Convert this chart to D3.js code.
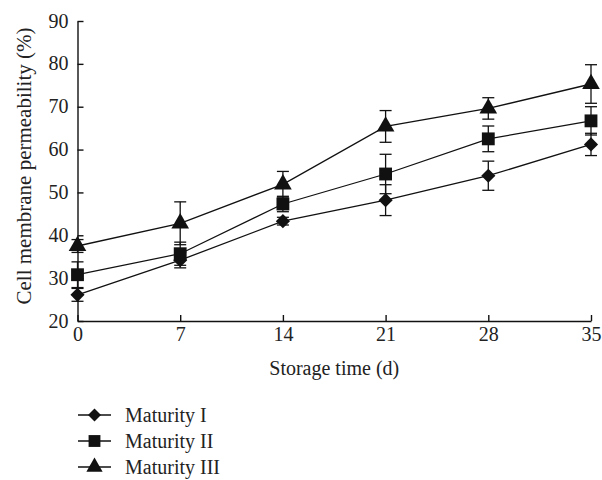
<!DOCTYPE html>
<html>
<head>
<meta charset="utf-8">
<script src="https://cdn.jsdelivr.net/npm/d3@7"></script>
<style>
  html, body { margin: 0; padding: 0; background: #fff; }
  svg text { font-family: "Liberation Serif", "DejaVu Serif", serif; fill: #222; }
</style>
</head>
<body>
<svg id="chart" width="602" height="480"></svg>
<script>
// Storage days on the x axis
const days = [0, 7, 14, 21, 28, 35];

// Cell membrane permeability (%) for each maturity stage
const maturityI   = [26.1, 34.2, 43.3, 48.2, 53.9, 61.2];
const maturityII  = [30.8, 35.7, 47.3, 54.3, 62.5, 66.7];
const maturityIII = [37.5, 42.8, 51.9, 65.4, 69.6, 75.3];

// Error bar half-widths (standard deviation)
const errI   = [1.5, 1.8, 0.9, 3.6, 3.4, 2.6];
const errII  = [3.0, 2.7, 1.8, 4.6, 3.0, 3.3];
const errIII = [1.5, 5.0, 3.0, 3.7, 2.5, 4.5];

const seriesNames = ["Maturity I", "Maturity II", "Maturity III"];
const yTicks = [20, 30, 40, 50, 60, 70, 80, 90];

// Diamond drawn as a square turned 45 degrees (equal width and height)
const series = [
  { name: seriesNames[0], values: maturityI,   errors: errI,   symbol: d3.symbolSquare,   size: 100, rot: 45 },
  { name: seriesNames[1], values: maturityII,  errors: errII,  symbol: d3.symbolSquare,   size: 165, rot: 0 },
  { name: seriesNames[2], values: maturityIII, errors: errIII, symbol: d3.symbolTriangle, size: 135, rot: 0 }
];

const svg = d3.select("#chart");
const ink = "#111";
const fontSize = "20px";

const x = d3.scaleLinear().domain([0, 35]).range([77.5, 591]);
const y = d3.scaleLinear().domain([20, 90]).range([321, 21]);

// Axes with inward ticks
const xAxis = d3.axisBottom(x).tickValues(days).tickSize(-6).tickPadding(10).tickSizeOuter(0);
const yAxis = d3.axisLeft(y).tickValues(yTicks).tickSize(-6).tickPadding(10).tickSizeOuter(0);

const gx = svg.append("g").attr("transform", `translate(0,${y(20)})`).call(xAxis);
const gy = svg.append("g").attr("transform", `translate(${x(0)},0)`).call(yAxis);

[gx, gy].forEach(g => {
  g.select(".domain").attr("stroke", ink).attr("stroke-width", 1.4);
  g.selectAll(".tick line").attr("stroke", ink).attr("stroke-width", 1.4);
  g.selectAll(".tick text")
    .style("font-family", "'Liberation Serif', serif")
    .style("font-size", fontSize)
    .attr("fill", "#222");
});
gx.selectAll(".tick text").attr("y", 3).attr("dy", "0.85em");
gy.selectAll(".tick text").attr("x", -9).attr("dy", "0.3em");

// Axis titles
svg.append("text")
  .attr("x", (x(0) + x(35)) / 2)
  .attr("y", 375)
  .attr("text-anchor", "middle")
  .style("font-size", fontSize)
  .text("Storage time (d)");

svg.append("text")
  .attr("transform", `translate(31,166) rotate(-90)`)
  .attr("text-anchor", "middle")
  .style("font-size", "21px")
  .text("Cell membrane permeability (%)");

const line = d3.line()
  .x((d, i) => x(days[i]))
  .y(d => y(d));

// Series lines, error bars and markers
series.forEach(s => {
  const g = svg.append("g");

  g.append("path")
    .datum(s.values)
    .attr("d", line)
    .attr("fill", "none")
    .attr("stroke", ink)
    .attr("stroke-width", 1.3);

  const eb = g.selectAll(".err")
    .data(s.values.map((v, i) => ({ x: days[i], v, e: s.errors[i] })))
    .join("g");

  eb.append("line")
    .attr("x1", d => x(d.x)).attr("x2", d => x(d.x))
    .attr("y1", d => y(d.v - d.e)).attr("y2", d => y(d.v + d.e))
    .attr("stroke", ink).attr("stroke-width", 1.3);
  eb.append("line")
    .attr("x1", d => x(d.x) - 6).attr("x2", d => x(d.x) + 6)
    .attr("y1", d => y(d.v + d.e)).attr("y2", d => y(d.v + d.e))
    .attr("stroke", ink).attr("stroke-width", 1.3);
  eb.append("line")
    .attr("x1", d => x(d.x) - 6).attr("x2", d => x(d.x) + 6)
    .attr("y1", d => y(d.v - d.e)).attr("y2", d => y(d.v - d.e))
    .attr("stroke", ink).attr("stroke-width", 1.3);

  g.selectAll(".mark")
    .data(s.values)
    .join("path")
    .attr("transform", (d, i) => `translate(${x(days[i])},${y(d)}) rotate(${s.rot})`)
    .attr("d", d3.symbol().type(s.symbol).size(s.size))
    .attr("fill", ink);
});

// Legend
const legendRows = [415, 441, 467];
series.forEach((s, i) => {
  const g = svg.append("g").attr("transform", `translate(0,${legendRows[i]})`);
  g.append("line").attr("x1", 78).attr("x2", 111).attr("y1", 0).attr("y2", 0)
    .attr("stroke", ink).attr("stroke-width", 1.3);
  g.append("path").attr("transform", `translate(94.5,0) rotate(${s.rot})`)
    .attr("d", d3.symbol().type(s.symbol).size(s.size * 0.85))
    .attr("fill", ink);
  g.append("text").attr("x", 125).attr("y", 0).attr("dy", "0.33em")
    .style("font-size", fontSize)
    .text(s.name);
});
</script>
</body>
</html>
